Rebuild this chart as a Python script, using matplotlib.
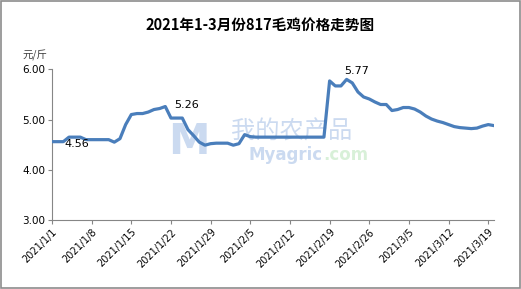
import matplotlib

matplotlib.use("Agg")
import matplotlib.pyplot as plt
import matplotlib.dates as mdates
import pandas as pd
from matplotlib.patches import Rectangle

plt.rcParams["font.family"] = ["DejaVu Sans", "Noto Sans CJK SC"]

# daily 817 broiler price, yuan/jin, 2021-01-01 .. 2021-03-20
start_date = "2021-01-01"
prices = [
    4.56, 4.56, 4.56, 4.65, 4.65, 4.65, 4.60, 4.60, 4.60, 4.60,
    4.60, 4.55, 4.62, 4.90, 5.10, 5.12, 5.12, 5.15, 5.20, 5.22,
    5.26, 5.03, 5.03, 5.03, 4.80, 4.68, 4.55, 4.49, 4.52, 4.53,
    4.53, 4.53, 4.49, 4.52, 4.70, 4.66, 4.65, 4.65, 4.65, 4.65,
    4.65, 4.65, 4.65, 4.65, 4.65, 4.65, 4.65, 4.65, 4.65, 5.77,
    5.67, 5.67, 5.80, 5.73, 5.55, 5.45, 5.41, 5.35, 5.30, 5.30,
    5.18, 5.20, 5.24, 5.24, 5.21, 5.15, 5.07, 5.01, 4.97, 4.94,
    4.90, 4.86, 4.84, 4.83, 4.82, 4.83, 4.87, 4.90, 4.88,
]
yticks = [3.0, 4.0, 5.0, 6.0]
labelled = {"2021-01-01": "4.56", "2021-01-21": "5.26", "2021-02-22": "5.77"}

dates = pd.date_range(start_date, periods=len(prices), freq="D")
series = pd.Series(prices, index=dates)

fig = plt.figure(figsize=(5.21, 2.89), dpi=100)
fig.patches.append(Rectangle((0.001, 0.002), 0.997, 0.995, transform=fig.transFigure,
                             fill=False, edgecolor="#8c8c8c", linewidth=1.2))
ax = fig.add_axes([0.0998, 0.2388, 0.8482, 0.5212])

# faint watermark, kept under the line
wm = dict(transform=fig.transFigure, zorder=0, va="center")
ax.text(0.363, 0.51, "M", fontsize=30, fontweight="bold", color="#cbdaf0", ha="center", **wm)
ax.text(0.443, 0.545, "我的农产品", fontsize=17.5, color="#cbdaf0", ha="left",
        family=["Noto Sans CJK SC"], **wm)
ax.text(0.62, 0.465, "Myagric", fontsize=12, fontweight="bold", color="#cbdaf0", ha="right", **wm)
ax.text(0.62, 0.465, ".com", fontsize=12, fontweight="bold", color="#d8f0d8", ha="left", **wm)

ax.plot(series.index, series.values, color="#4a7ebb", linewidth=2.3, solid_joinstyle="round", zorder=3)

offsets = {"2021-01-01": (18, -1.5), "2021-01-21": (15, 1), "2021-02-22": (7, 6)}
for day, text in labelled.items():
    d = pd.Timestamp(day)
    ax.annotate(text, (d, series[d]), xytext=offsets[day], textcoords="offset points",
                ha="center", va="center", fontsize=8, zorder=4)

ax.set_xlim(dates[0], dates[-1])
ax.set_ylim(3.0, 6.0)
ax.set_yticks(yticks)
ax.set_yticklabels([f"{v:.2f}" for v in yticks], fontsize=7.5)

xticks = pd.date_range(start_date, dates[-1], freq="7D")
ax.set_xticks(mdates.date2num(xticks))
ax.set_xticklabels([f"{d.year}/{d.month}/{d.day}" for d in xticks], rotation=45,
                   ha="right", rotation_mode="anchor", fontsize=7)

for side in ["top", "right"]:
    ax.spines[side].set_visible(False)
for side in ["left", "bottom"]:
    ax.spines[side].set_color("#868686")
    ax.spines[side].set_linewidth(0.8)
ax.tick_params(direction="out", length=3, color="#868686", width=0.8, pad=2)

fig.text(0.5, 0.913, "2021年1-3月份817毛鸡价格走势图", fontsize=10.5, fontweight="bold",
         ha="center", va="center", family=["Noto Sans CJK SC"])
fig.text(0.067, 0.81, "元/斤", fontsize=7.5, ha="center", va="center", color="#404040",
         family=["Noto Sans CJK SC"])

fig.savefig("out.png", dpi=100)
